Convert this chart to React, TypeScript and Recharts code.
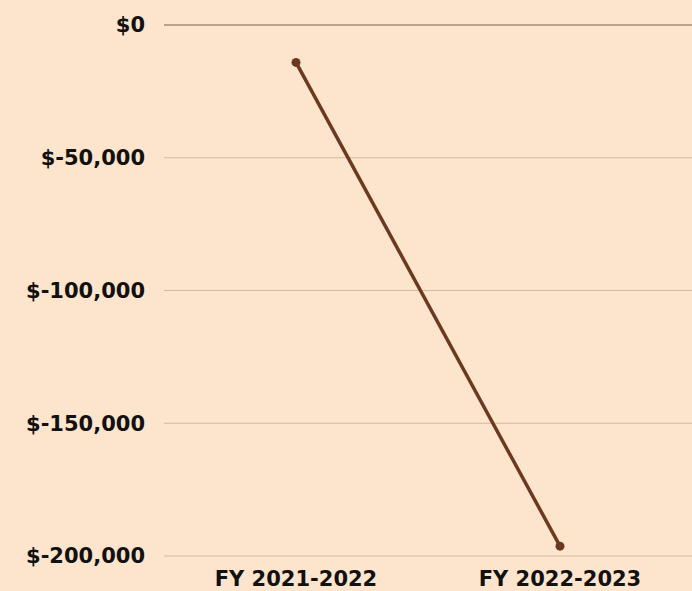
import React from 'react';
import { LineChart, Line, XAxis, YAxis, CartesianGrid, ReferenceLine } from 'recharts';

const years = ['FY 2021-2022', 'FY 2022-2023'];
const netIncome = [-14100, -196300];
const yTicks = [0, -50000, -100000, -150000, -200000];

const data = years.map((year, i) => ({ year, value: netIncome[i] }));

const font = '"DejaVu Sans", sans-serif';
const tickStyle = { fill: '#111111', fontFamily: font, fontWeight: 700, fontSize: 21 };

const money = (v: number) => `$${v.toLocaleString('en-US')}`;

export default function App() {
  return (
    <div style={{ position: 'absolute', left: 0, top: 0, width: 692, height: 591, background: '#fde4cc' }}>
      <LineChart width={692} height={591} data={data} margin={{ top: 25, right: 0, left: 0, bottom: 5 }}>
        <CartesianGrid vertical={false} stroke="#d0baa2" strokeWidth={1.2} />
        <XAxis
          dataKey="year"
          axisLine={false}
          tickLine={false}
          tick={tickStyle}
          tickMargin={9}
          height={30}
          padding={{ left: 132, right: 132 }}
        />
        <YAxis
          domain={[-200000, 0]}
          ticks={yTicks}
          tickFormatter={money}
          axisLine={false}
          tickLine={false}
          tick={tickStyle}
          tickMargin={13}
          width={164}
        />
        <ReferenceLine y={0} stroke="#a99584" strokeWidth={1.5} />
        <Line
          type="linear"
          dataKey="value"
          stroke="#6b3a1e"
          strokeWidth={3.5}
          dot={{ r: 4.5, fill: '#6b3a1e', stroke: '#6b3a1e', strokeWidth: 0 }}
          isAnimationActive={false}
        />
      </LineChart>
    </div>
  );
}
